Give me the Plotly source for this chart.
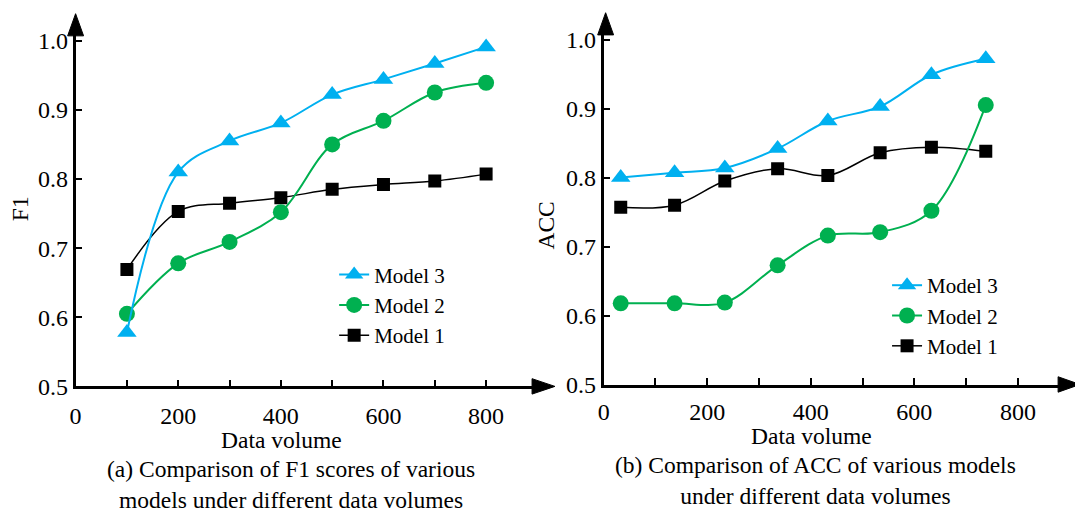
import plotly.graph_objects as go

W, H = 1075, 514

# ---- data ----
f1_x = [100, 200, 300, 400, 500, 600, 700, 800]
f1_model1 = [0.669, 0.753, 0.765, 0.773, 0.785, 0.792, 0.797, 0.807]
f1_model2 = [0.605, 0.678, 0.709, 0.752, 0.850, 0.884, 0.925, 0.939]
f1_model3 = [0.578, 0.810, 0.855, 0.881, 0.922, 0.944, 0.967, 0.991]

acc_x = [33, 137, 234, 336, 433, 534, 633, 738]
acc_model1 = [0.757, 0.760, 0.795, 0.813, 0.803, 0.836, 0.844, 0.838]
acc_model2 = [0.618, 0.618, 0.619, 0.673, 0.716, 0.721, 0.752, 0.905]
acc_model3 = [0.800, 0.807, 0.814, 0.842, 0.882, 0.903, 0.949, 0.972]

x_tickvals = [0, 100, 200, 300, 400, 500, 600, 700, 800]
x_ticktext = ["0", "", "200", "", "400", "", "600", "", "800"]
y_tickvals = [0.5, 0.6, 0.7, 0.8, 0.9, 1.0]
y_ticktext = ["0.5", "0.6", "0.7", "0.8", "0.9", "1.0"]

BLUE = "#00B0F0"
GREEN = "#00B050"
BLACK = "#000000"
FONT = "Liberation Serif"


def px(x):
    return x / W


def py(y):
    return 1 - y / H


fig = go.Figure()

series = [
    ("Model 1", BLACK, "square", 13, 1.5),
    ("Model 2", GREEN, "circle", 16, 2),
    ("Model 3", BLUE, "triangle-up", 17, 2),
]
left_vals = [f1_model1, f1_model2, f1_model3]
right_vals = [acc_model1, acc_model2, acc_model3]

for (name, color, sym, size, lw), vals in zip(series, left_vals):
    fig.add_trace(go.Scatter(
        x=f1_x, y=vals, name=name, mode="lines+markers",
        line=dict(color=color, width=lw, shape="spline", smoothing=1.0),
        marker=dict(color=color, symbol=sym, size=size),
        xaxis="x", yaxis="y", legend="legend"))

for (name, color, sym, size, lw), vals in zip(series, right_vals):
    fig.add_trace(go.Scatter(
        x=acc_x, y=vals, name=name, mode="lines+markers",
        line=dict(color=color, width=lw, shape="spline", smoothing=1.0),
        marker=dict(color=color, symbol=sym, size=size),
        xaxis="x2", yaxis="y2", legend="legend2"))

tickfont = dict(family=FONT, size=24, color="black")

axis_common = dict(showline=True, linecolor="black", linewidth=2.5,
                   showgrid=False, zeroline=False, ticks="inside",
                   ticklen=7, tickwidth=1.5, tickcolor="black",
                   tickfont=tickfont, fixedrange=True)

# left panel: x 0 at 70px, 51.6px per 100; y 0.5 at 395px, 71.8px per 0.1
lx0, lx1 = 70, 530
ly_bot, ly_top = 395, 28
# right panel
rx0, rx1 = 601, 1060
ry_bot, ry_top = 393.3, 28

fig.update_layout(
    width=W, height=H,
    margin=dict(l=0, r=0, t=0, b=0),
    paper_bgcolor="white", plot_bgcolor="white",
    font=dict(family=FONT, color="black"),
    xaxis=dict(domain=[px(lx0), px(lx1)], range=[0, (lx1 - lx0) / 0.516],
               tickvals=x_tickvals, ticktext=x_ticktext, anchor="y",
               ticklabelstandoff=6, **axis_common),
    yaxis=dict(domain=[py(ly_bot), py(ly_top)],
               range=[0.5, 0.5 + (ly_bot - ly_top) / 718],
               tickvals=y_tickvals, ticktext=y_ticktext, anchor="x", **axis_common),
    xaxis2=dict(domain=[px(rx0), px(rx1)], range=[0, (rx1 - rx0) / 0.5207],
                tickvals=x_tickvals, ticktext=x_ticktext, anchor="y2",
                ticklabelstandoff=4, **axis_common),
    yaxis2=dict(domain=[py(ry_bot), py(ry_top)],
                range=[0.5, 0.5 + (ry_bot - ry_top) / 717],
                tickvals=y_tickvals, ticktext=y_ticktext, anchor="x2", **axis_common),
    legend=dict(x=px(330), y=py(258), xanchor="left", yanchor="top",
                traceorder="reversed", bgcolor="rgba(0,0,0,0)",
                font=dict(family=FONT, size=21), tracegroupgap=0),
    legend2=dict(x=px(886), y=py(269), xanchor="left", yanchor="top",
                 traceorder="reversed", bgcolor="rgba(0,0,0,0)",
                 font=dict(family=FONT, size=21), tracegroupgap=0),
    showlegend=True,
)

# arrowheads on axes
def tri(pts):
    p = "M " + " L ".join(f"{px(x)},{py(y)}" for x, y in pts) + " Z"
    return dict(type="path", path=p, xref="paper", yref="paper",
                fillcolor="black", line=dict(color="black", width=1))

fig.add_shape(**tri([(62, 31), (78, 31), (70, 8)]))
fig.add_shape(**tri([(595, 30), (611, 30), (603, 7)]))
fig.add_shape(**tri([(529, 387), (529, 403), (552, 395)]))
fig.add_shape(**tri([(1058, 385), (1058, 401), (1080, 393)]))

annfont = dict(family=FONT, size=23.5, color="black")
capfont = dict(family=FONT, size=23.5, color="black")
anns = [
    dict(x=px(277), y=py(451), text="Data volume", font=annfont),
    dict(x=px(810), y=py(447), text="Data volume", font=annfont),
    dict(x=px(287), y=py(497), text="(a) Comparison of F1 scores of various<br>models under different data volumes", font=capfont),
    dict(x=px(814), y=py(493), text="(b) Comparison of ACC of various models<br>under different data volumes", font=capfont),
    dict(x=px(14), y=py(210), text="F1", textangle=-90, font=annfont),
    dict(x=px(543), y=py(228), text="ACC", textangle=-90, font=annfont),
]
for a in anns:
    fig.add_annotation(xref="paper", yref="paper", showarrow=False,
                       xanchor="center", yanchor="middle", **a)

fig.write_html("out.html")
